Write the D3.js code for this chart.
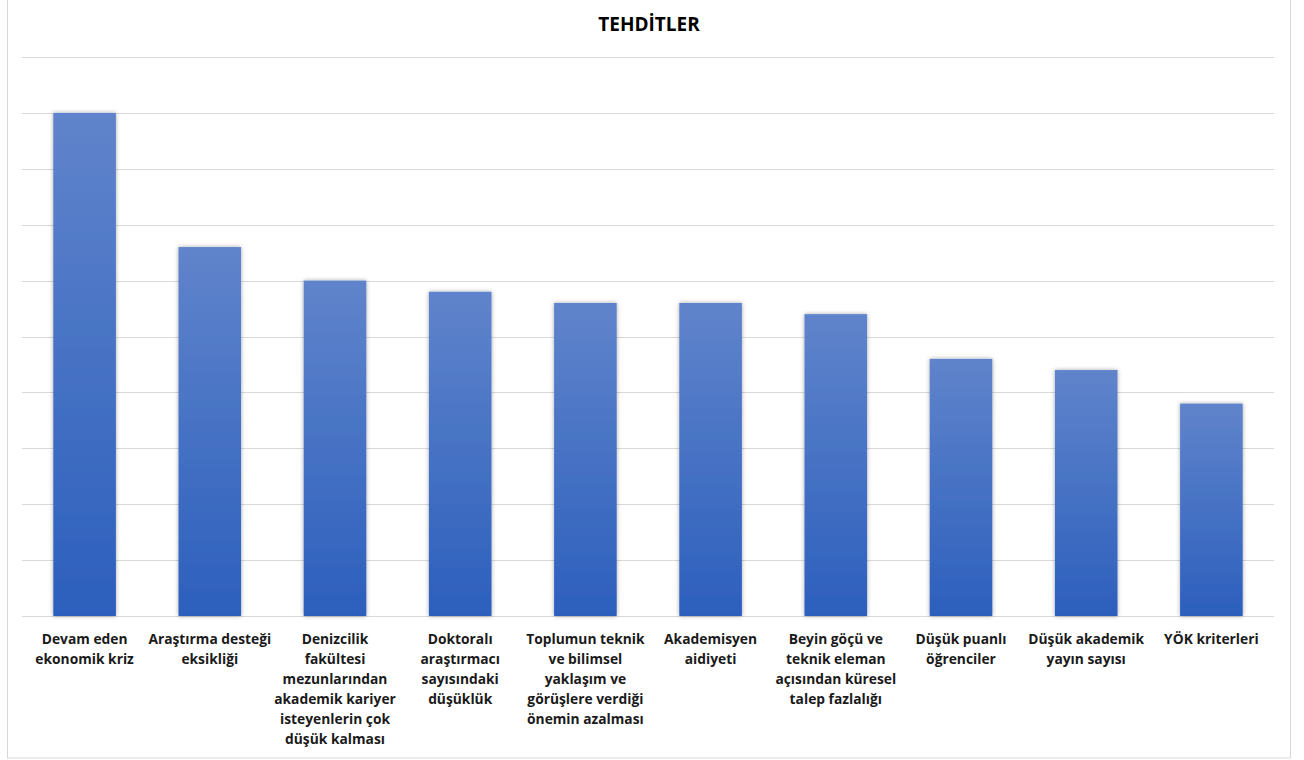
<!doctype html>
<html lang="tr">
<head>
<meta charset="utf-8">
<title>TEHDİTLER</title>
<style>
  body { margin: 0; background: #fff; }
  svg { display: block; font-family: "Open Sans", "Noto Sans", sans-serif; }
  .grid line { stroke: #d9d9d9; stroke-width: 1; }
  .label { font-size: 13.8px; font-weight: 700; fill: #1a1a1a; }
  .title { font-size: 19px; font-weight: 700; fill: #000; }
</style>
</head>
<body>
<div id="chart"></div>
<script src="https://cdn.jsdelivr.net/npm/d3@7"></script>
<script>
var categories = [
  "Devam eden\nekonomik kriz",
  "Araştırma desteği\neksikliği",
  "Denizcilik\nfakültesi\nmezunlarından\nakademik kariyer\nisteyenlerin çok\ndüşük kalması",
  "Doktoralı\naraştırmacı\nsayısındaki\ndüşüklük",
  "Toplumun teknik\nve bilimsel\nyaklaşım ve\ngörüşlere verdiği\nönemin azalması",
  "Akademisyen\naidiyeti",
  "Beyin göçü ve\nteknik eleman\naçısından küresel\ntalep fazlalığı",
  "Düşük puanlı\nöğrenciler",
  "Düşük akademik\nyayın sayısı",
  "YÖK kriterleri"
];
var values = [9, 6.6, 6, 5.8, 5.6, 5.6, 5.4, 4.6, 4.4, 3.8];
var yTicks = [0, 1, 2, 3, 4, 5, 6, 7, 8, 9, 10];

(function () {
  var width = 1304, height = 760;
  var margin = { top: 57, right: 30, bottom: 144, left: 22 };

  var svg = d3.select("#chart").append("svg")
    .attr("width", width)
    .attr("height", height);

  var defs = svg.append("defs");
  var grad = defs.append("linearGradient")
    .attr("id", "barGrad")
    .attr("x1", 0).attr("y1", 0).attr("x2", 0).attr("y2", 1);
  grad.append("stop").attr("offset", "0%").attr("stop-color", "#6084cb");
  grad.append("stop").attr("offset", "100%").attr("stop-color", "#2c5fbd");

  var shadow = defs.append("filter").attr("id", "shadow")
    .attr("x", "-20%").attr("y", "-5%").attr("width", "140%").attr("height", "110%");
  shadow.append("feDropShadow")
    .attr("dx", 0).attr("dy", 0).attr("stdDeviation", 2)
    .attr("flood-color", "#000").attr("flood-opacity", 0.35);

  // chart area border
  svg.append("rect")
    .attr("x", 7.5).attr("y", -1)
    .attr("width", 1283).attr("height", 759)
    .attr("fill", "none").attr("stroke", "#d9d9d9");

  var x = d3.scaleBand()
    .domain(categories)
    .range([margin.left, width - margin.right])
    .paddingInner(0.5)
    .paddingOuter(0.25);

  var y = d3.scaleLinear()
    .domain([0, 10])
    .range([height - margin.bottom, margin.top]);

  svg.append("g").attr("class", "grid")
    .selectAll("line").data(yTicks).enter()
    .append("line")
    .attr("x1", margin.left).attr("x2", width - margin.right)
    .attr("y1", function (d) { return Math.round(y(d)) + 0.5; })
    .attr("y2", function (d) { return Math.round(y(d)) + 0.5; });

  svg.append("g").selectAll("rect").data(values).enter()
    .append("rect")
    .attr("x", function (d, i) { return x(categories[i]); })
    .attr("y", function (d) { return y(d); })
    .attr("width", x.bandwidth())
    .attr("height", function (d) { return y(0) - y(d); })
    .attr("fill", "url(#barGrad)")
    .attr("filter", "url(#shadow)");

  var labels = svg.append("g").selectAll("text").data(categories).enter()
    .append("text")
    .attr("class", "label")
    .attr("text-anchor", "middle")
    .attr("x", function (d) { return x(d) + x.bandwidth() / 2; })
    .attr("y", y(0) + 28);

  labels.selectAll("tspan")
    .data(function (d) { return d.split("\n"); })
    .enter().append("tspan")
    .attr("x", function () { return d3.select(this.parentNode).attr("x"); })
    .attr("dy", function (d, i) { return i === 0 ? 0 : 20; })
    .text(function (d) { return d; });

  svg.append("text")
    .attr("class", "title")
    .attr("text-anchor", "middle")
    .attr("x", 649)
    .attr("y", 31)
    .text("TEHDİTLER");
})();
</script>
</body>
</html>
